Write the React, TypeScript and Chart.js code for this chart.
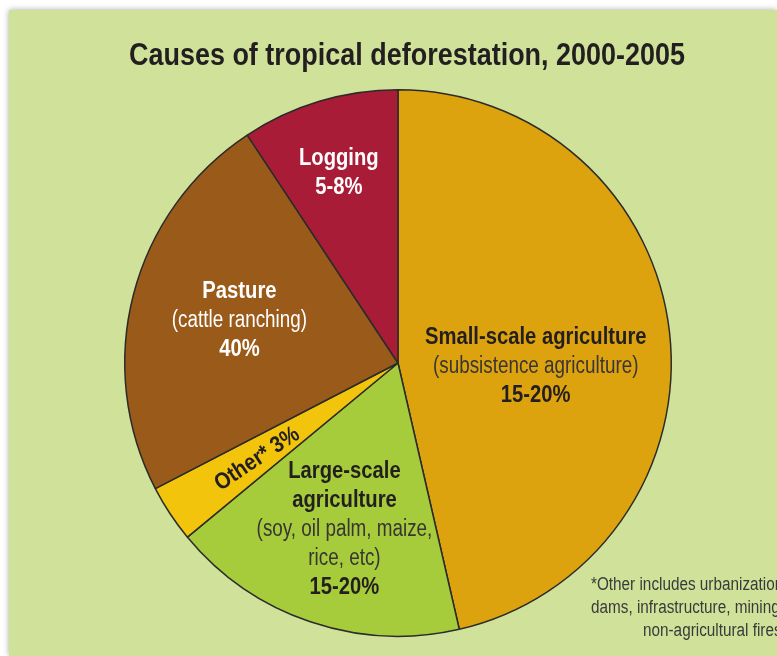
import React, { useEffect, useRef } from "react";
import { Chart, ArcElement, PieController } from "chart.js";

Chart.register(ArcElement, PieController);

// Data (shares)
const categories = ["Small-scale agriculture", "Large-scale agriculture", "Other", "Pasture", "Logging"];
const shares = [46.4, 17.6, 3.4, 23.3, 9.3];
const sliceColors = ["#dca30f", "#a6cb3b", "#f2c40b", "#9a5a19", "#a81c37"];

const titleText = "Causes of tropical deforestation, 2000-2005";
const footnoteLines = ["*Other includes urbanization,", "dams, infrastructure, mining and", "non-agricultural fires."];
const footnoteIndent = [0, 0, 52];

// label lines per slice: [text, bold]
const sliceLabels: [string, boolean][][] = [
  [["Small-scale agriculture", true], ["(subsistence agriculture)", false], ["15-20%", true]],
  [["Large-scale", true], ["agriculture", true], ["(soy, oil palm, maize,", false], ["rice, etc)", false], ["15-20%", true]],
  [["Other* 3%", true]],
  [["Pasture", true], ["(cattle ranching)", false], ["40%", true]],
  [["Logging", true], ["5-8%", true]],
];
const labelColors = ["#231f20", "#231f20", "#231f20", "#ffffff", "#ffffff"];
const regularColors = ["#3a3535", "#3a3535", "#3a3535", "#ffffff", "#ffffff"];
// placement: fraction along slice angle, fraction of radius, rotate along radius
const labelPlacement = [
  { t: 0.544, r: 0.504, rotate: false },
  { t: 0.489, r: 0.633, rotate: false },
  { t: 0.48, r: 0.62, rotate: true },
  { t: 0.514, r: 0.603, rotate: false },
  { t: 0.488, r: 0.735, rotate: false },
];

const FONT = '"Liberation Sans", Arial, sans-serif';
// horizontal condensing to mimic a condensed face
const SX_BOLD = 0.88;
const SX_REG = 0.82;
const SX_TITLE = 0.87;
const SX_NOTE = 0.85;

function condensedText(ctx: CanvasRenderingContext2D, t: string, x: number, y: number, sx: number) {
  ctx.save();
  ctx.translate(x, y);
  ctx.scale(sx, 1);
  ctx.fillText(t, 0, 0);
  ctx.restore();
}

const textPlugin = {
  id: "textPlugin",
  afterDatasetsDraw(chart: any) {
    const ctx = chart.ctx as CanvasRenderingContext2D;
    const meta = chart.getDatasetMeta(0);
    const first = meta.data[0] as any;
    const cx = first.x;
    const cy = first.y;
    const R = first.outerRadius;
    ctx.save();
    ctx.textAlign = "center";
    ctx.textBaseline = "middle";
    const lh = 29;
    meta.data.forEach((arc: any, i: number) => {
      const p = labelPlacement[i];
      const a = arc.startAngle + (arc.endAngle - arc.startAngle) * p.t;
      const x = cx + Math.cos(a) * R * p.r;
      const y = cy + Math.sin(a) * R * p.r;
      const lines = sliceLabels[i];
      ctx.save();
      ctx.translate(x, y + 2);
      if (p.rotate) ctx.rotate(a + Math.PI);
      lines.forEach(([t, b], k) => {
        ctx.font = `${b ? "bold " : ""}23px ${FONT}`;
        ctx.fillStyle = b ? labelColors[i] : regularColors[i];
        condensedText(ctx, t, 0, (k - (lines.length - 1) / 2) * lh, b ? SX_BOLD : SX_REG);
      });
      ctx.restore();
    });
    // title
    ctx.fillStyle = "#231f20";
    ctx.font = `bold 31px ${FONT}`;
    ctx.textBaseline = "alphabetic";
    condensedText(ctx, titleText, 398, 55, SX_TITLE);
    // footnote
    ctx.font = `18px ${FONT}`;
    ctx.fillStyle = "#3a3a3a";
    ctx.textBaseline = "middle";
    ctx.textAlign = "left";
    footnoteLines.forEach((t, k) => {
      condensedText(ctx, t, 582 + footnoteIndent[k], 575 + k * 23, SX_NOTE);
    });
    ctx.restore();
  },
};

export default function App() {
  const ref = useRef<HTMLCanvasElement>(null);
  useEffect(() => {
    const chart = new Chart(ref.current!, {
      type: "pie",
      data: {
        labels: categories,
        datasets: [
          {
            data: shares,
            backgroundColor: sliceColors,
            borderColor: "#2b2b2b",
            borderWidth: 1.5,
          },
        ],
      },
      options: {
        animation: false,
        responsive: false,
        events: [],
        layout: { padding: { left: 115, right: 105, top: 79, bottom: 19 } },
        plugins: { legend: { display: false }, tooltip: { enabled: false } },
      },
      plugins: [textPlugin],
    });
    return () => chart.destroy();
  }, []);
  return (
    <div
      style={{
        position: "absolute",
        left: 9,
        top: 10,
        width: 768,
        height: 646,
        background: "#d0e29a",
        boxShadow: "0 0 6px rgba(0,0,0,0.35)",
      }}
    >
      <canvas ref={ref} width={768} height={646} style={{ display: "block" }} />
    </div>
  );
}
